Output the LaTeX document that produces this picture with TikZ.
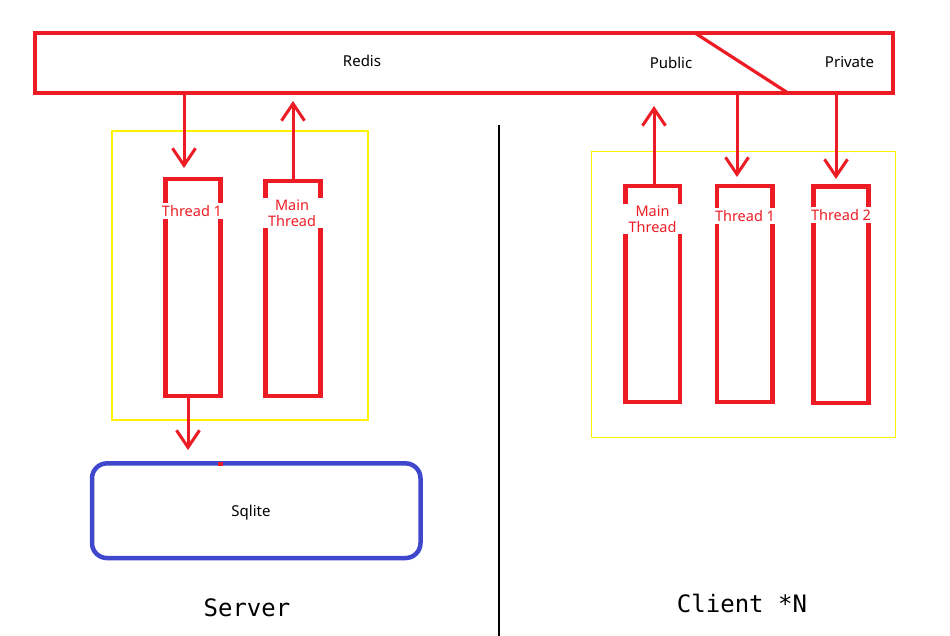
\documentclass[tikz,border=0pt]{standalone}
\usepackage{fontspec}
\setmainfont{Noto Sans}
\newfontfamily\monofont{DejaVu Sans Mono}
\usetikzlibrary{arrows.meta}
\definecolor{pred}{HTML}{ED1C24}
\definecolor{pblue}{HTML}{3F48CC}
\definecolor{pyellow}{HTML}{FFF200}
\begin{document}
\begin{tikzpicture}[x=1pt,y=-1pt,
  redisbox/.style={draw=pred, line width=4.2pt, inner sep=0pt, outer sep=0pt},
  thread/.style={draw=pred, line width=4.5pt, minimum width=55pt, minimum height=216pt, inner sep=0pt, outer sep=0pt},
  group/.style={draw=pyellow, line width=1.3pt, inner sep=0pt, outer sep=0pt},
  lbl/.style={fill=white, text=pred, font=\fontsize{14.5}{15.5}\selectfont, align=center, inner xsep=1pt, inner ysep=2pt, minimum width=63pt},
  txt/.style={text=black, font=\fontsize{15}{17}\selectfont, inner sep=0pt},
  title/.style={text=black, font=\monofont\fontsize{24}{28}\selectfont, inner sep=0pt},
  arr/.style={draw=pred, line width=3pt, -{Straight Barb[length=17pt,width=23pt]}},
]
\useasboundingbox (0,0) rectangle (950,636);
% groups
\node[group, minimum width=256pt, minimum height=289pt] (sgroup) at (240,275.5) {};
\node[group, minimum width=303.6pt, minimum height=285.6pt] (cgroup) at (743.5,294.5) {};
% redis
\node[redisbox, minimum width=858pt, minimum height=60pt] (redis) at (464,63) {};
\draw[pred, line width=3.2pt] (695,33) -- (788,93);
\node[txt] (redisl) at (362,61) {Redis};
\node[txt] (publicl) at (671,62.5) {Public};
\node[txt] (privatel) at (849.5,62.5) {Private};
% server threads
\node[thread, minimum height=217pt] (st1) at (193,287.5) {};
\node[thread, minimum height=215pt] (sm) at (293,288.5) {};
\node[lbl] (st1l) at (192,211) {Thread 1};
\node[lbl] (sml) at (292,213) {Main\\Thread};
% client threads
\node[thread, minimum width=54.5pt] (cm) at (652.75,294) {};
\node[thread, minimum width=55.5pt] (ct1) at (744.75,294) {};
\node[thread, minimum height=216.3pt] (ct2) at (841,294.8) {};
\node[lbl] (cml) at (652.5,219) {Main\\Thread};
\node[lbl] (ct1l) at (745,216) {Thread 1};
\node[lbl] (ct2l) at (841,215) {Thread 2};
% sqlite
\node[draw=pblue, line width=4.5pt, rounded corners=15pt, minimum width=328.5pt, minimum height=94.7pt, inner sep=0pt, outer sep=0pt] (sqlite) at (256.25,510.7) {};
\fill[pred] (218,461.5) rectangle (223,465.5);
\node[txt] (sqlitel) at (251,512.7) {Sqlite};
% arrow end points
\coordinate (a1) at (184,168);
\coordinate (a2) at (293,101);
\coordinate (a3) at (188,450);
\coordinate (a4) at (654,106);
\coordinate (a5) at (737,177);
\coordinate (a6) at (836,179);
\draw[arr] (redis.south -| a1) -- (a1);
\draw[arr] (sm.north -| a2) -- (a2);
\draw[arr] (st1.south -| a3) -- (a3);
\draw[arr] (cm.north -| a4) -- (a4);
\draw[arr] (redis.south -| a5) -- (a5);
\draw[arr] (redis.south -| a6) -- (a6);
% divider
\coordinate (d1) at (499,125);
\coordinate (d2) at (499,636);
\draw[black, line width=1.5pt] (d1) -- (d2);
% titles
\node[title] (server) at (247,608) {Server};
\node[title] (client) at (742,603) {Client *N};
\end{tikzpicture}
\end{document}
